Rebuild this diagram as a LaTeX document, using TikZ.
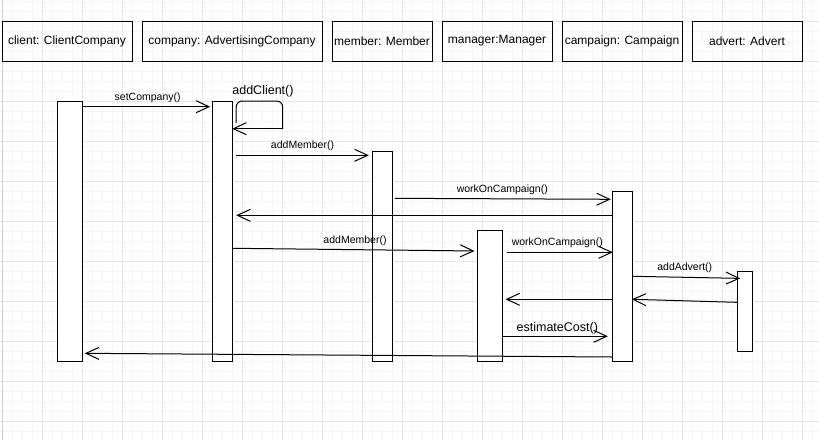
\documentclass[tikz,border=0pt]{standalone}
\usepackage{fontspec}
\setmainfont{Liberation Sans}
\usetikzlibrary{arrows.meta}
\definecolor{gridminor}{RGB}{245,245,245}
\definecolor{gridmajor}{RGB}{231,231,231}
\definecolor{gridedge}{RGB}{205,205,205}

\begin{document}
\begin{tikzpicture}[x=1pt,y=-1pt,
  obj/.style={draw=black, line width=1pt, minimum height=40pt, inner sep=0pt,
    font=\fontsize{12}{14}\selectfont},
  bar/.style={draw=black, fill=white, line width=1pt, inner sep=0pt},
  msg/.style={line width=1pt, -{Straight Barb[length=13pt,width=12pt]}},
  lbl/.style={font=\fontsize{10.5}{12}\selectfont, anchor=base, inner sep=0pt, yshift=6.5pt},
  lblbig/.style={font=\fontsize{12.5}{14}\selectfont, anchor=base, inner sep=0pt}]

\useasboundingbox (0,0) rectangle (819,440);
\fill[white] (0,0) rectangle (819,440);

% background grid
\foreach \gx in {2,12,...,812} \draw[gridminor, line width=1pt] (\gx,0) -- (\gx,440);
\foreach \gy in {1,11,...,431} \draw[gridminor, line width=1pt] (0,\gy) -- (819,\gy);
\foreach \gx in {42,82,...,802} \draw[gridmajor, line width=1pt] (\gx,0) -- (\gx,440);
\foreach \gy in {21,61,...,421} \draw[gridmajor, line width=1pt] (0,\gy) -- (819,\gy);
\draw[gridedge, line width=1.2pt] (2.5,0) -- (2.5,440);

% participants
\node[obj, minimum width=130pt] (client)   at (67,41)  {client: ClientCompany};
\node[obj, minimum width=180pt] (company)  at (232,41) {company: AdvertisingCompany};
\node[obj, minimum width=100pt] (member)   at (382,41) {\makebox[100pt]{member: Member}};
\node[obj, minimum width=110pt] (manager)  at (497,41) {manager:Manager};
\node[obj, minimum width=120pt] (campaign) at (622,41) {campaign: Campaign};
\node[obj, minimum width=110pt] (advert)   at (747,41) {advert: Advert};

% activation bars
\node[bar, minimum width=25pt, minimum height=260pt]   (clientbar)   at (70.2,231)    {};
\node[bar, minimum width=20pt, minimum height=260pt]   (companybar)  at (222.7,231)   {};
\node[bar, minimum width=20pt, minimum height=209.7pt] (memberbar)   at (382.3,256.2) {};
\node[bar, minimum width=25pt, minimum height=131pt]   (managerbar)  at (489.8,295.5) {};
\node[bar, minimum width=20pt, minimum height=169.7pt] (campaignbar) at (622.3,276.2) {};
\node[bar, minimum width=15pt, minimum height=79.7pt]  (advertbar)   at (744.8,311.2) {};

% messages
\draw[msg, shorten >=2pt] (clientbar.east |- 0,106.7) --
  node[lbl] {setCompany()} (companybar.west |- 0,106.7);

\draw[line width=1pt, rounded corners=6pt]
  ([xshift=3pt]companybar.east |- 0,123) -- ([xshift=3pt]companybar.east |- 0,101)
  -- node[lblbig, xshift=3.5pt, yshift=7pt] {addClient()} (282.7,101) -- (282.7,128.7);
\draw[msg, shorten >=-1pt] (282.7,128.7) -- (companybar.east |- 0,128.7);

\draw[msg, shorten <=3pt, shorten >=3pt] (companybar.east |- 0,155.3) --
  node[lbl] {addMember()} (memberbar.west |- 0,155.3);

\draw[msg, shorten <=2pt, shorten >=1pt] (memberbar.east |- 0,198.3) --
  node[lbl] {workOnCampaign()} (campaignbar.west |- 0,199.3);

\draw[msg, shorten >=3pt] (campaignbar.west |- 0,215.3) -- (companybar.east |- 0,215.3);

\draw[msg, shorten >=2.3pt] (companybar.east |- 0,248.3) --
  node[lbl] {addMember()} (managerbar.west |- 0,251);

\draw[msg, shorten <=4.4pt, shorten >=-1pt] (managerbar.east |- 0,252.3) --
  node[lbl] {workOnCampaign()} (campaignbar.west |- 0,252.3);

\draw[msg, shorten >=-3.4pt] (campaignbar.east |- 0,276.3) --
  node[lbl] {addAdvert()} (advertbar.west |- 0,278.3);

\draw[msg, shorten >=-1pt] (advertbar.west |- 0,302.3) -- (campaignbar.east |- 0,299.3);

\draw[msg, shorten >=2.7pt] (campaignbar.west |- 0,299.3) -- (managerbar.east |- 0,299.3);

\draw[msg, shorten <=-1.3pt, shorten >=4pt] (managerbar.east |- 0,336.3) --
  node[lblbig, yshift=5.3pt] {estimateCost()} (campaignbar.west |- 0,336.3);

\draw[msg, shorten >=1.6pt] (campaignbar.west |- 0,357) -- (clientbar.east |- 0,353.3);

\end{tikzpicture}
\end{document}
